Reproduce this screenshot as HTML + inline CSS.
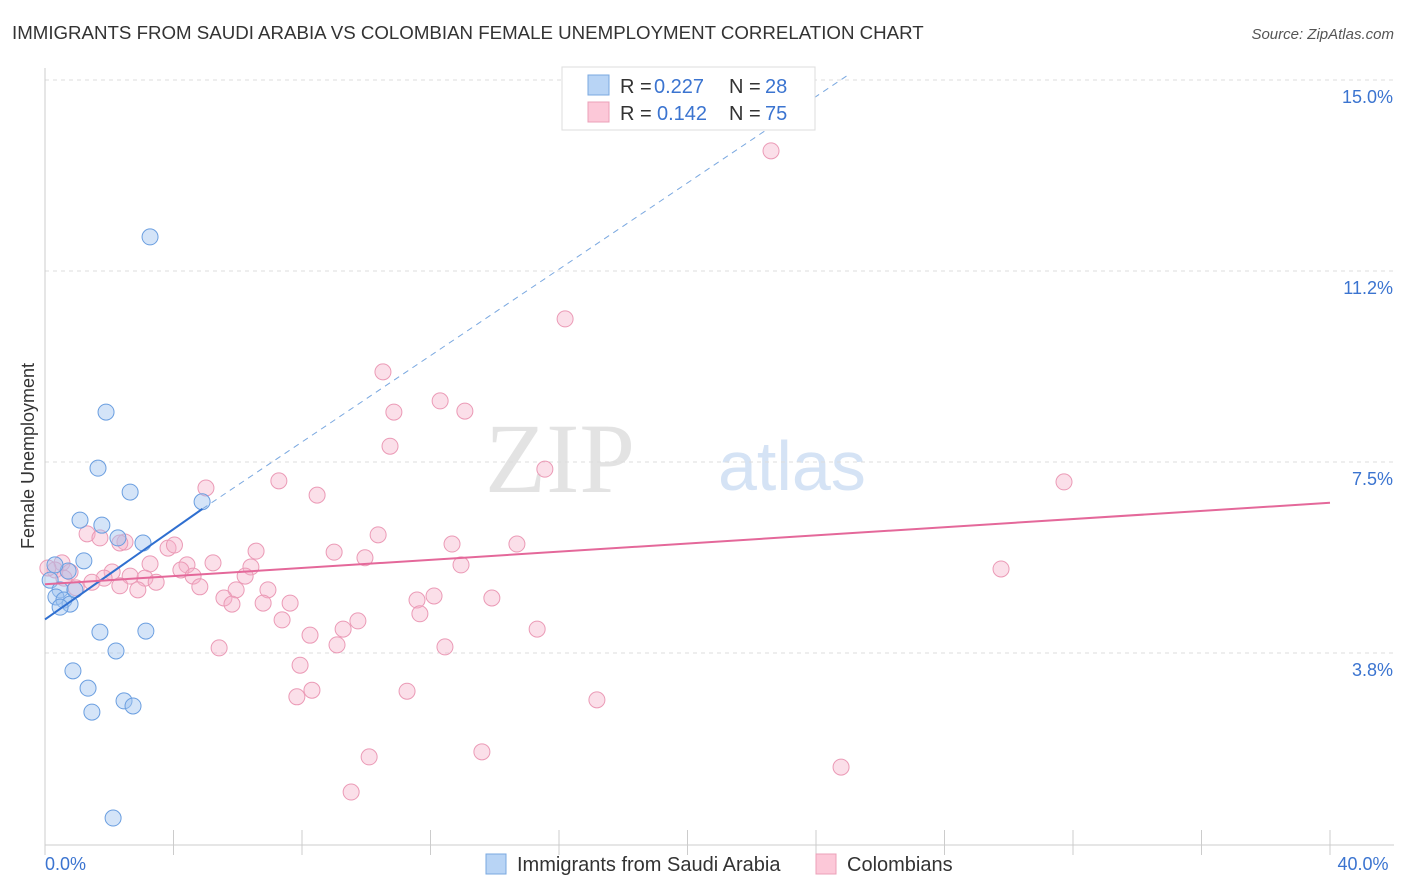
<!DOCTYPE html>
<html><head><meta charset="utf-8"><style>
body{margin:0;background:#fff;font-family:"Liberation Sans",sans-serif}
svg{display:block}
</style></head><body>
<svg id="c" width="1406" height="892">
<text x="12" y="39" font-size="18.7" fill="#333">IMMIGRANTS FROM SAUDI ARABIA VS COLOMBIAN FEMALE UNEMPLOYMENT CORRELATION CHART</text>
<text x="1394" y="39" font-size="15" fill="#555" font-style="italic" text-anchor="end">Source: ZipAtlas.com</text>
<text x="635" y="492" font-size="100" fill="#e3e3e3" text-anchor="end" font-family="Liberation Serif">ZIP</text>
<text x="718" y="490" font-size="70" fill="#d5e3f5">atlas</text>
<text transform="translate(34,456) rotate(-90)" font-size="18" fill="#333" text-anchor="middle">Female Unemployment</text>
<g id="grid"></g><g id="marks"></g>
<g>
<rect x="562" y="67" width="253" height="63" fill="#fff" stroke="#ddd"/>
<rect x="588" y="75" width="21" height="20" fill="#b8d4f5" stroke="#7aa8e0"/>
<rect x="588" y="102" width="21" height="20" fill="#fcc8d8" stroke="#eba0b8"/>
<text x="620" y="93" font-size="20" fill="#333">R =</text>
<text x="654" y="93" font-size="20" fill="#3b74d0">0.227</text>
<text x="729" y="93" font-size="20" fill="#333">N =</text>
<text x="765" y="93" font-size="20" fill="#3b74d0">28</text>
<text x="620" y="120" font-size="20" fill="#333">R =</text>
<text x="657" y="120" font-size="20" fill="#3b74d0">0.142</text>
<text x="729" y="120" font-size="20" fill="#333">N =</text>
<text x="765" y="120" font-size="20" fill="#3b74d0">75</text>
</g>
<g>
<rect x="486" y="854" width="20" height="20" fill="#b8d4f5" stroke="#7aa8e0"/>
<text x="517" y="871" font-size="20" fill="#333">Immigrants from Saudi Arabia</text>
<rect x="816" y="854" width="20" height="20" fill="#fcc8d8" stroke="#eba0b8"/>
<text x="847" y="871" font-size="20" fill="#333">Colombians</text>
</g>
</svg>
<script>
const yTicks=[3.75,7.5,11.25,15];
const yTickLabels=["3.8%","7.5%","11.2%","15.0%"];
const xTickLabels=["0.0%","40.0%"];
const blueX=[3.27,1.90,1.65,2.65,4.89,1.09,1.77,2.27,3.05,1.21,0.72,0.31,0.16,0.47,0.34,0.59,0.78,0.47,0.93,1.71,3.14,2.21,0.87,1.34,2.46,2.74,1.46,2.12];
const blueY=[11.92,8.48,7.38,6.91,6.72,6.36,6.26,6.01,5.91,5.56,5.36,5.48,5.18,4.99,4.85,4.79,4.71,4.65,4.99,4.16,4.18,3.79,3.40,3.06,2.81,2.71,2.59,0.51];
const pinkX=[22.60,16.19,10.52,12.30,10.86,13.07,10.74,15.56,31.72,7.28,5.01,8.47,10.37,1.31,1.71,2.49,12.67,14.69,3.83,4.03,6.57,9.00,9.96,5.23,4.42,3.27,12.95,29.76,6.41,0.53,0.31,0.78,2.09,4.23,6.23,4.61,3.11,2.65,1.84,1.46,3.46,0.59,2.33,4.82,2.89,5.95,6.94,0.97,5.57,5.82,6.79,7.63,12.11,11.58,13.91,11.67,7.38,9.74,9.28,8.25,15.32,9.09,5.42,12.45,7.94,8.31,7.84,11.27,17.18,13.60,10.09,24.78,9.53,0.09,2.33];
const pinkY=[13.61,10.31,9.27,8.70,8.48,8.50,7.81,7.36,7.11,7.13,6.99,6.85,6.07,6.09,6.01,5.93,5.89,5.89,5.81,5.87,5.75,5.73,5.62,5.52,5.48,5.50,5.48,5.40,5.44,5.52,5.38,5.34,5.34,5.38,5.26,5.26,5.22,5.26,5.22,5.14,5.14,5.22,5.07,5.05,4.99,4.99,4.99,5.03,4.83,4.71,4.73,4.73,4.87,4.79,4.83,4.52,4.40,4.38,4.22,4.10,4.22,3.91,3.85,3.87,3.51,3.02,2.89,3.00,2.83,1.81,1.71,1.51,1.02,5.42,5.91];
const blueTrendX=[0,4.9],blueTrendY=[4.41,6.58];
const blueDashX=[4.9,25],blueDashY=[6.58,15.1];
const pinkTrendX=[0,40],pinkTrendY=[5.10,6.70];
const NS="http://www.w3.org/2000/svg";
const X=v=>45+v*32.125, Y=v=>844-v*50.93;
function mk(t,a,p){const e=document.createElementNS(NS,t);for(const k in a)e.setAttribute(k,a[k]);p.appendChild(e);return e;}
const g=document.getElementById('grid'),m=document.getElementById('marks');
yTicks.forEach((t,i)=>{
 const l=mk('line',{x1:45,x2:1394,y1:Y(t),y2:Y(t),stroke:'#ddd','stroke-dasharray':'4,4'},g);
 
 
 const tx=mk('text',{x:1393,y:Y(t)+23,'font-size':18,fill:'#3b74d0','text-anchor':'end'},g);tx.textContent=yTickLabels[i];
 
 
});
const ax=mk('line',{x1:45,x2:45,y1:68,y2:845,stroke:'#ccc'},g);


const bx=mk('line',{x1:45,x2:1394,y1:845,y2:845,stroke:'#ccc'},g);


for(let i=0;i<=10;i++){const t=mk('line',{x1:X(i*4),x2:X(i*4),y1:830,y2:855,stroke:'#ccc'},g);
 
 }
[[0,'start',45],[40,'middle',1363]].forEach((d,i)=>{const t=mk('text',{x:d[2],y:870,'font-size':18,fill:'#3b74d0','text-anchor':d[1]},g);t.textContent=xTickLabels[i];
 
 });
pinkX.forEach((v,i)=>{const c=mk('circle',{cx:X(v),cy:Y(pinkY[i]),r:8,fill:'rgba(244,176,200,0.4)',stroke:'#eb9ab6','stroke-width':1},m);
 
 });
blueX.forEach((v,i)=>{const c=mk('circle',{cx:X(v),cy:Y(blueY[i]),r:8,fill:'rgba(160,196,240,0.45)',stroke:'#6a9ee0','stroke-width':1},m);
 
 });
const d=mk('line',{x1:X(blueDashX[0]),y1:Y(blueDashY[0]),x2:X(blueDashX[1]),y2:Y(blueDashY[1]),stroke:'#7aa8e0','stroke-dasharray':'6,5'},m);


const b=mk('line',{x1:X(blueTrendX[0]),y1:Y(blueTrendY[0]),x2:X(blueTrendX[1]),y2:Y(blueTrendY[1]),stroke:'#2f6fd0','stroke-width':2},m);


const p=mk('line',{x1:X(pinkTrendX[0]),y1:Y(pinkTrendY[0]),x2:X(pinkTrendX[1]),y2:Y(pinkTrendY[1]),stroke:'#e4689a','stroke-width':2},m);


</script>
</body></html>
